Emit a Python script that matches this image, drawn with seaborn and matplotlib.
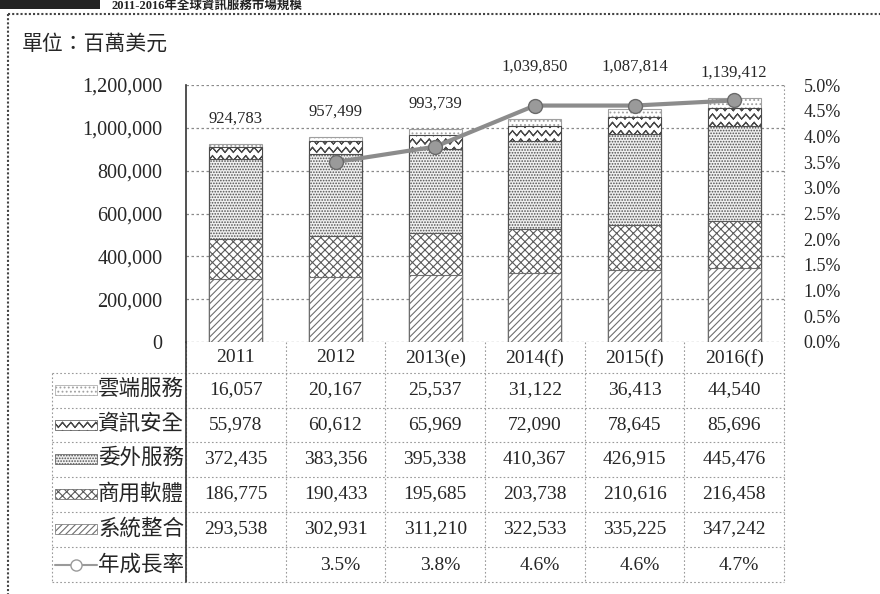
import warnings

import numpy as np
import pandas as pd
import matplotlib
matplotlib.use("Agg")
from matplotlib import pyplot as plt
from matplotlib import hatch as mhatch
from matplotlib.path import Path
from matplotlib.patches import Rectangle
from matplotlib.lines import Line2D
from matplotlib.transforms import blended_transform_factory
import seaborn as sns

warnings.filterwarnings("ignore")

# data (百萬美元)
years = ["2011", "2012", "2013(e)", "2014(f)", "2015(f)", "2016(f)"]
cloud = [16057, 20167, 25537, 31122, 36413, 44540]
security = [55978, 60612, 65969, 72090, 78645, 85696]
outsourcing = [372435, 383356, 395338, 410367, 426915, 445476]
software = [186775, 190433, 195685, 203738, 210616, 216458]
integration = [293538, 302931, 311210, 322533, 335225, 347242]
growth = [np.nan, 3.5, 3.8, 4.6, 4.6, 4.7]

segment_names = ["雲端服務", "資訊安全", "委外服務", "商用軟體", "系統整合"]  # top -> bottom
growth_name = "年成長率"
unit_label = "單位：百萬美元"
title_text = "2011-2016年全球資訊服務市場規模"
left_ticks = [0, 200000, 400000, 600000, 800000, 1000000, 1200000]
right_ticks = [0.0, 0.5, 1.0, 1.5, 2.0, 2.5, 3.0, 3.5, 4.0, 4.5, 5.0]


class WaveHatch(mhatch.HatchPatternBase):
    """zigzag hatch, used with '~' (thin closed ribbons, since agg fills hatch paths)"""
    def __init__(self, hatch, density):
        self.num_lines = int(hatch.count('~') * density)
        self.num_steps = 2 * self.num_lines
        self.per_line = 2 * (self.num_steps + 1) + 1
        self.num_vertices = self.num_lines * self.per_line

    def set_vertices_and_codes(self, vertices, codes):
        n = self.num_steps + 1
        xs = np.linspace(0.0, 1.0, n)
        amp = 0.3 / max(self.num_lines, 1)
        wave = amp * np.where(np.arange(n) % 2 == 0, -1.0, 1.0)
        thick = 0.003
        for i in range(self.num_lines):
            off = i / self.num_lines
            s = i * self.per_line
            vertices[s:s + n, 0] = xs
            vertices[s:s + n, 1] = off + wave
            vertices[s + n:s + 2 * n, 0] = xs[::-1]
            vertices[s + n:s + 2 * n, 1] = (off + wave + thick)[::-1]
            vertices[s + 2 * n] = vertices[s]
            codes[s] = Path.MOVETO
            codes[s + 1:s + 2 * n] = Path.LINETO
            codes[s + 2 * n] = Path.CLOSEPOLY


mhatch._hatch_types.append(WaveHatch)

W, H = 880, 594


def fx(px):
    return px / W


def fy(py):
    return 1 - py / H


sns.set_theme(style="white")
plt.rcParams['font.family'] = ['Liberation Serif', 'Noto Sans CJK TC', 'DejaVu Sans']
plt.rcParams['hatch.linewidth'] = 0.8

df = pd.DataFrame({
    "year": years,
    "雲端服務": cloud,
    "資訊安全": security,
    "委外服務": outsourcing,
    "商用軟體": software,
    "系統整合": integration,
})
bottom_to_top = segment_names[::-1]
tops = df[bottom_to_top].cumsum(axis=1)
for name in bottom_to_top:
    df["top_" + name] = tops[name]
total = tops[bottom_to_top[-1]]

styles = {
    "系統整合": dict(hatch="/////", edgecolor="#6e6e6e", facecolor="white"),
    "商用軟體": dict(hatch="xxxx", edgecolor="#5a5a5a", facecolor="white"),
    "委外服務": dict(hatch="......", edgecolor="#505050", facecolor="#f0f0f0"),
    "資訊安全": dict(hatch="~~", edgecolor="#4a4a4a", facecolor="white"),
    "雲端服務": dict(hatch="....", edgecolor="#a0a0a0", facecolor="white"),
}

fig = plt.figure(figsize=(8.8, 5.94), dpi=100)
ax_left, ax_right, ax_top, ax_bot = 186, 784, 85, 342
ax = fig.add_axes([fx(ax_left), fy(ax_bot), fx(ax_right - ax_left), (ax_bot - ax_top) / H])

# stacked bars: draw the cumulative tops from highest down so each layer covers the next
for name in segment_names:
    st = styles[name]
    sns.barplot(data=df, x="year", y="top_" + name, color=st["facecolor"], saturation=1,
                width=0.53, errorbar=None, linewidth=0.8, ax=ax,
                hatch=st["hatch"], edgecolor=st["edgecolor"])

ax.set_ylim(0, 1200000)
ax.set_xlim(-0.5, len(years) - 0.5)
ax.set_yticks(left_ticks)
ax.set_yticklabels([f"{v:,}" for v in left_ticks], fontsize=14.5)
ax.tick_params(axis="y", length=0, pad=17)
ax.tick_params(axis="x", length=0, labelbottom=False)
ax.set_xlabel("")
ax.set_ylabel("")
ax.set_axisbelow(True)
ax.yaxis.grid(True, color="#8a8a8a", linestyle=(0, (2, 2)), linewidth=0.9)
for side in ["top", "bottom", "right"]:
    ax.spines[side].set_visible(False)
ax.spines["left"].set_color("#333333")
ax.spines["left"].set_linewidth(1.2)

# growth line
ax2 = ax.twinx()
gdf = pd.DataFrame({"pos": np.arange(len(years)), "growth": growth}).dropna()
sns.lineplot(data=gdf, x="pos", y="growth", ax=ax2, color="#8c8c8c", linewidth=3,
             marker="o", markersize=10, markerfacecolor="#9a9a9a",
             markeredgecolor="#6a6a6a", markeredgewidth=1)
ax2.set_ylim(0, 5)
ax2.set_xlim(-0.5, len(years) - 0.5)
ax2.set_yticks(right_ticks)
ax2.set_yticklabels([f"{v:.1f}%" for v in right_ticks], fontsize=13)
ax2.tick_params(axis="y", length=0, pad=14)
ax2.set_ylabel("")
ax2.set_xlabel("")
for side in ax2.spines:
    ax2.spines[side].set_visible(False)

# total labels
for i, t in enumerate(total):
    line_on_left = growth[i] / 5 * 1200000 if not np.isnan(growth[i]) else 0
    if line_on_left > t:
        ax.text(i, 1.04, f"{t:,}", transform=blended_transform_factory(ax.transData, ax.transAxes),
                ha="center", va="bottom", fontsize=12, clip_on=False)
    else:
        ax.text(i, t + 80000, f"{t:,}", ha="center", va="bottom", fontsize=12)

# data table under the chart
trans = blended_transform_factory(ax.transData, fig.transFigure)
row_centres = [390, 425, 459, 494, 529, 565]
row_lines = [373, 408, 442, 477, 512, 547, 582]
series_rows = [cloud, security, outsourcing, software, integration]
grid_kw = dict(color="#9a9a9a", linewidth=0.8, linestyle=(0, (1.5, 2)))

for i, y in enumerate(years):
    ax.text(i, fy(358), y, transform=trans, ha="center", va="center", fontsize=14)

for r, vals in enumerate(series_rows):
    for i, v in enumerate(vals):
        ax.text(i, fy(row_centres[r]), f"{v:,}", transform=trans,
                ha="center", va="center", fontsize=14)
for i, g in enumerate(growth):
    if not np.isnan(g):
        ax.text(i + 0.05, fy(row_centres[5]), f"{g:.1f}%", transform=trans,
                ha="center", va="center", fontsize=14)

for r, name in enumerate(segment_names + [growth_name]):
    fig.text(fx(ax_left - 2), fy(row_centres[r]), name, ha="right", va="center", fontsize=15.5)

for r, name in enumerate(segment_names):
    st = styles[name]
    fig.add_artist(Rectangle((fx(55), fy(row_centres[r] + 5)), fx(42), 10 / H,
                             transform=fig.transFigure, facecolor=st["facecolor"],
                             edgecolor=st["edgecolor"], hatch=st["hatch"], linewidth=0.5))
fig.add_artist(Line2D([fx(55), fx(76), fx(97)], [fy(row_centres[5])] * 3, transform=fig.transFigure,
                      color="#9a9a9a", linewidth=1.5, marker="o", markersize=8,
                      markerfacecolor="white", markevery=[1]))

for py in row_lines:
    fig.add_artist(Line2D([fx(52), fx(ax_right)], [fy(py)] * 2, transform=fig.transFigure, **grid_kw))
for b in np.arange(len(years) + 1) - 0.5:
    top = ax_top if b == len(years) - 0.5 else ax_bot
    fig.add_artist(Line2D([b, b], [fy(top), fy(582)], transform=trans, **grid_kw))
fig.add_artist(Line2D([fx(52), fx(52)], [fy(373), fy(582)], transform=fig.transFigure, **grid_kw))
fig.add_artist(Line2D([fx(ax_left), fx(ax_left)], [fy(ax_bot), fy(582)], transform=fig.transFigure,
                      color="#333333", linewidth=1.2))

# unit, frame and the title strip
fig.text(fx(22), fy(45), unit_label, ha="left", va="center", fontsize=15)
fig.add_artist(Line2D([fx(8), 1], [fy(14), fy(14)], transform=fig.transFigure,
                      color="#444444", linewidth=1.5, linestyle=(0, (1, 1))))
fig.add_artist(Line2D([fx(8), fx(8)], [fy(14), 0], transform=fig.transFigure,
                      color="#444444", linewidth=1.5, linestyle=(0, (1, 1))))
fig.add_artist(Rectangle((0, fy(9)), fx(100), 9 / H, transform=fig.transFigure,
                         facecolor="#222222", edgecolor="none"))
fig.text(fx(112), fy(6), title_text, ha="left", va="center", fontsize=9,
         fontweight="bold", color="#222222")

fig.savefig("out.png", dpi=100)
